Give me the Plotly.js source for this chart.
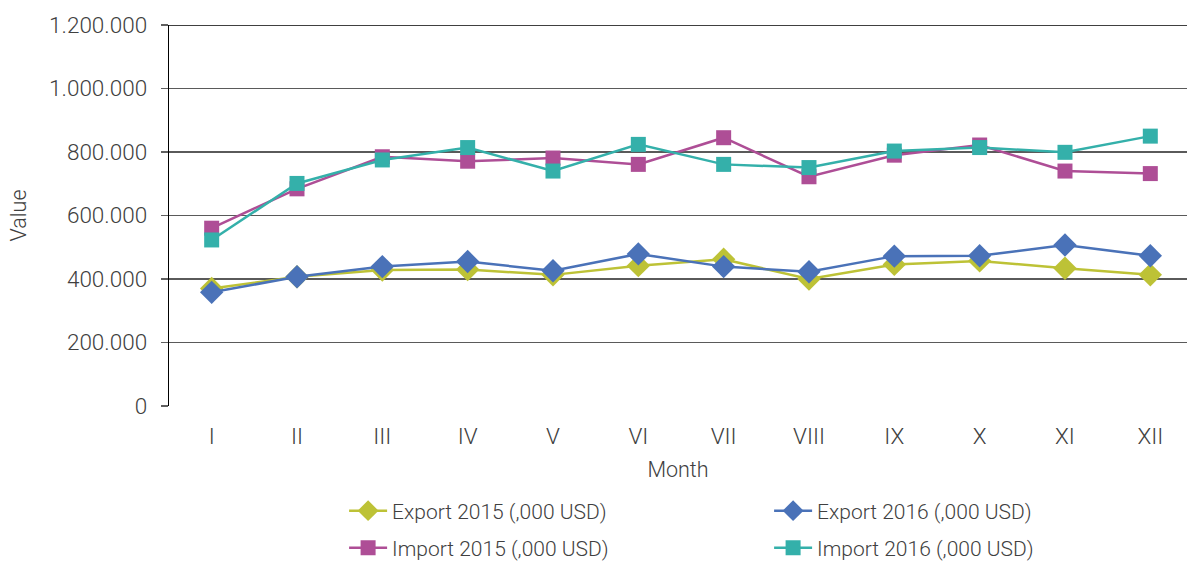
<!DOCTYPE html>
<html>
<head>
<meta charset="utf-8">
<script src="https://cdn.plot.ly/plotly-3.0.1.min.js"></script>
<style>html,body{margin:0;padding:0;background:#fff;}#chart{width:1187px;height:561px;}</style>
</head>
<body>
<div id="chart"></div>
<script>
const months = ["I","II","III","IV","V","VI","VII","VIII","IX","X","XI","XII"];
const export2015 = [370000, 407000, 428000, 430000, 413000, 442000, 462000, 400000, 446000, 457000, 434000, 413000];
const export2016 = [358000, 407000, 439000, 455000, 426000, 479000, 439000, 423000, 472000, 473000, 507000, 473000];
const import2015 = [560000, 684000, 785000, 771000, 781000, 761000, 845000, 722000, 790000, 822000, 740000, 732000];
const import2016 = [523000, 701000, 775000, 814000, 740000, 824000, 761000, 751000, 803000, 814000, 799000, 850000];
const seriesNames = ["Export 2015 (,000 USD)", "Export 2016 (,000 USD)", "Import 2015 (,000 USD)", "Import 2016 (,000 USD)"];
const yTicks = [0, 200000, 400000, 600000, 800000, 1000000, 1200000];
const yTickText = ["0", "200.000", "400.000", "600.000", "800.000", "1.000.000", "1.200.000"];

const colors = ["#BDC236", "#4A72B8", "#AE4E96", "#34B0AA"];
const symbols = ["diamond", "diamond", "square", "square"];
const sizes = [18, 18, 15, 15];
const legends = ["legend", "legend", "legend2", "legend2"];
const data = [export2015, export2016, import2015, import2016].map((vals, i) => ({
  type: "scatter",
  mode: "lines+markers",
  x: months.map((_, k) => k),
  y: vals,
  name: seriesNames[i],
  legend: legends[i],
  legendrank: i + 1,
  line: {color: colors[i], width: 2.5},
  marker: {color: colors[i], symbol: symbols[i], size: sizes[i]},
  cliponaxis: false
}));
const ordered = [data[0], data[2], data[1], data[3]];

const tickFont = {family: "Roboto, sans-serif", color: "#404040", size: 22.5, weight: 300};
const titleFont = {family: "Roboto, sans-serif", color: "#404040", size: 21.5, weight: 300};
const legFont = {family: "Roboto, sans-serif", color: "#404040", size: 21, weight: 300};
const legendBase = {
  orientation: "h",
  x: 0.172, xanchor: "left",
  yanchor: "middle",
  entrywidth: 372, entrywidthmode: "pixels",
  traceorder: "normal",
  font: legFont,
  itemwidth: 38,
  bgcolor: "rgba(0,0,0,0)"
};
const layout = {
  width: 1187, height: 561,
  margin: {l: 169, r: 0, t: 25, b: 155, autoexpand: false},
  paper_bgcolor: "#fff", plot_bgcolor: "#fff",
  font: tickFont,
  showlegend: true,
  xaxis: {
    range: [-0.5, 11.43],
    tickvals: months.map((_, k) => k),
    ticktext: months,
    tickfont: tickFont,
    showgrid: false, zeroline: false, showline: false,
    ticks: "", ticklabelstandoff: 14,
    title: {text: "Month", font: titleFont, standoff: 14},
    fixedrange: true
  },
  yaxis: {
    range: [0, 1200000],
    tickvals: yTicks, ticktext: yTickText,
    tickfont: tickFont,
    showgrid: true, gridcolor: "#5a5a5a", gridwidth: 1.3,
    zeroline: false,
    showline: true, linecolor: "#000", linewidth: 1.3,
    ticks: "outside", ticklen: 7, tickcolor: "#606060", tickwidth: 1.3,
    ticklabelstandoff: 9,
    title: {text: "Value", font: titleFont, standoff: 16},
    fixedrange: true
  },
  shapes: [{type: "line", xref: "paper", yref: "y", x0: 0, x1: 1, y0: 1200000, y1: 1200000, line: {color: "#000", width: 1.3}}],
  legend: Object.assign({}, legendBase, {y: (406 - 511) / 381}),
  legend2: Object.assign({}, legendBase, {y: (406 - 548) / 381})
};
Plotly.newPlot("chart", ordered, layout, {displayModeBar: false, staticPlot: true});
</script>
</body>
</html>
